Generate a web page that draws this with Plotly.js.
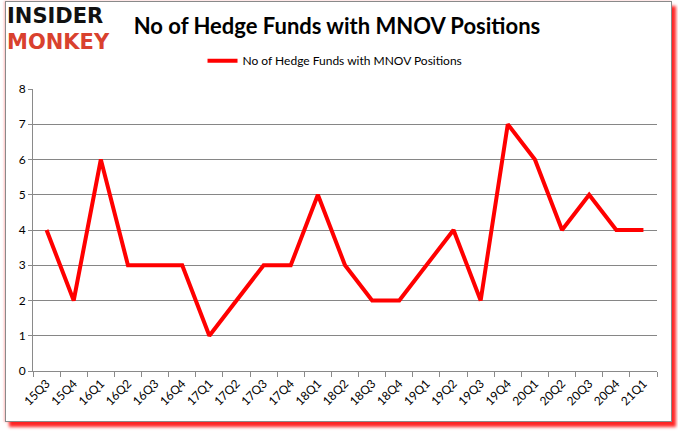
<!DOCTYPE html>
<html>
<head>
<meta charset="utf-8">
<script src="https://cdn.plot.ly/plotly-3.0.1.min.js"></script>
<style>
html,body{margin:0;padding:0;background:#fff;}
#wrap{position:relative;width:678px;height:431px;overflow:hidden;}
#frame{position:absolute;left:5px;top:1px;width:665px;height:419px;border:1px solid #8a8a8a;background:#fff;box-shadow:4px 5px 3px rgba(255,0,0,0.85), -1px 0 2px rgba(255,120,120,0.5);}
#chart{position:absolute;left:0;top:0;width:678px;height:431px;}
</style>
</head>
<body>
<div id="wrap"><div id="frame"></div><div id="chart"></div></div>
<script>
const quarters = ["15Q3","15Q4","16Q1","16Q2","16Q3","16Q4","17Q1","17Q2","17Q3","17Q4","18Q1","18Q2","18Q3","18Q4","19Q1","19Q2","19Q3","19Q4","20Q1","20Q2","20Q3","20Q4","21Q1"];
const hedgeFunds = [4,2,6,3,3,3,1,2,3,3,5,3,2,2,3,4,2,7,6,4,5,4,4];
const seriesName = "No of Hedge Funds with MNOV Positions";
const chartTitle = "No of Hedge Funds with MNOV Positions";
const yTicks = [0,1,2,3,4,5,6,7,8];

const trace = {
  x: quarters, y: hedgeFunds, type: "scatter", mode: "lines",
  name: seriesName, line: {color: "#ff0000", width: 4}
};
const layout = {
  width: 678, height: 431,
  paper_bgcolor: "rgba(0,0,0,0)", plot_bgcolor: "rgba(0,0,0,0)",
  margin: {l: 33, r: 21, t: 89, b: 60},
  showlegend: true,
  legend: {orientation: "h", x: 0.484, xanchor: "center", y: 1.1, yanchor: "middle",
           font: {family: "Lato, 'Open Sans', sans-serif", size: 12, color: "#000"}, bgcolor: "rgba(0,0,0,0)"},
  title: {text: chartTitle, x: 0.497, xanchor: "center", y: 0.94, yanchor: "middle",
          font: {family: "Lato, 'Open Sans', sans-serif", size: 22, color: "#000", weight: "bold"}},
  xaxis: {type: "category", range: [-0.5, 22.5], tickson: "boundaries", ticks: "outside", ticklen: 5,
          tickcolor: "#8a8a8a", showline: true, linecolor: "#8a8a8a", linewidth: 1, showgrid: false,
          tickangle: -45, tickfont: {family: "Lato, 'Open Sans', sans-serif", size: 12, color: "#000"}, zeroline: false},
  yaxis: {range: [0, 8], tickvals: yTicks, ticks: "outside", ticklen: 4, tickcolor: "#8a8a8a",
          showline: true, linecolor: "#8a8a8a", showgrid: true, gridcolor: "#868686", gridwidth: 1,
          zeroline: false, tickfont: {family: "Lato, 'Open Sans', sans-serif", size: 12, color: "#000"}},
  annotations: [
    {text: "<b>INSIDER</b>", xref: "paper", yref: "paper", x: -0.045, y: 1.258, xanchor: "left", yanchor: "middle",
     height: 22, showarrow: false, font: {family: "'DejaVu Sans', sans-serif", size: 21, color: "#111"}},
    {text: "<b>MONKEY</b>", xref: "paper", yref: "paper", x: -0.045, y: 1.166, xanchor: "left", yanchor: "middle",
     height: 22, showarrow: false, font: {family: "'DejaVu Sans', sans-serif", size: 21, color: "#d9412e"}}
  ]
};
Plotly.newPlot("chart", [trace], layout, {displayModeBar: false, staticPlot: true});
</script>
</body>
</html>
